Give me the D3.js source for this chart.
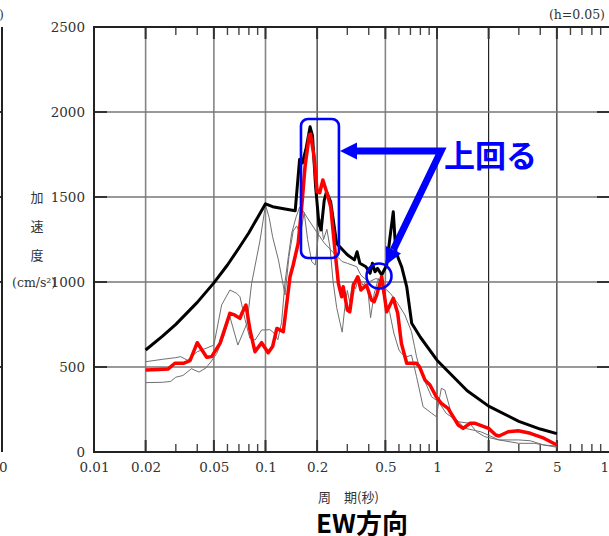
<!DOCTYPE html>
<html>
<head>
<meta charset="utf-8">
<script src="https://cdn.jsdelivr.net/npm/d3@7"></script>
<style>
body { margin: 0; background: #fff; }
svg { display: block; }
</style>
</head>
<body>
<div id="chart"></div>
<script>
// period ticks (sec) and acceleration ticks (cm/s2)
var xTicks = [0.01, 0.02, 0.05, 0.1, 0.2, 0.5, 1, 2, 5, 10];
var xTickLabels = ["0.01", "0.02", "0.05", "0.1", "0.2", "0.5", "1", "2", "5", "10"];
var minorTicks = [0.03, 0.04, 0.06, 0.07, 0.08, 0.09, 0.3, 0.4, 0.6, 0.7, 0.8, 0.9, 3, 4, 6, 7, 8, 9];
var yTicks = [0, 500, 1000, 1500, 2000, 2500];

// [period, acceleration]
var blackLine = [[0.02,600],[0.025,680],[0.03,751],[0.04,880],[0.05,995],[0.06,1100],[0.07,1200],[0.08,1290],
  [0.09,1380],[0.1,1460],[0.11,1443],[0.13,1430],[0.149,1419],[0.158,1720],[0.164,1700],[0.172,1780],[0.182,1913],
  [0.188,1860],[0.196,1560],[0.205,1340],[0.211,1306],[0.22,1480],[0.227,1531],[0.24,1470],[0.26,1227],[0.3,1160],
  [0.33,1130],[0.342,1178],[0.355,1110],[0.385,1090],[0.407,1051],[0.42,1110],[0.435,1060],[0.45,1080],[0.476,1041],
  [0.509,1100],[0.53,1250],[0.556,1413],[0.575,1180],[0.6,1130],[0.622,1090],[0.666,972],[0.712,757],[0.8,675],
  [1.0,540],[1.5,360],[2,270],[3,180],[4,135],[5,108]];

var redLine = [[0.02,482],[0.024,485],[0.027,488],[0.0296,522],[0.0332,522],[0.0363,537],[0.04,643],[0.0454,557],
  [0.0485,561],[0.0543,639],[0.062,816],[0.066,806],[0.071,786],[0.0725,812],[0.0769,865],[0.0812,718],[0.0868,590],
  [0.0949,643],[0.1037,584],[0.11,620],[0.1165,727],[0.127,708],[0.139,1031],[0.145,1100],[0.155,1227],[0.162,1423],
  [0.17,1678],[0.18,1865],[0.183,1870],[0.192,1737],[0.2,1531],[0.207,1525],[0.216,1600],[0.227,1531],[0.24,1443],
  [0.254,1188],[0.266,992],[0.278,913],[0.284,972],[0.3,835],[0.31,825],[0.326,982],[0.345,1031],[0.36,953],
  [0.388,982],[0.415,894],[0.43,884],[0.445,923],[0.476,1031],[0.509,825],[0.556,904],[0.59,816],[0.62,639],
  [0.666,522],[0.76,522],[0.79,502],[0.85,424],[0.91,394],[0.99,325],[1.06,286],[1.16,257],[1.33,159],[1.42,139],
  [1.56,169],[1.67,169],[2.0,139],[2.2,100],[2.3,94],[2.6,119],[2.98,125],[3.5,110],[4.2,81],[5.0,41]];

var grayLine1 = [[0.02,531],[0.025,545],[0.03,555],[0.032,561],[0.035,540],[0.04,590],[0.045,610],[0.05,629],
  [0.0555,865],[0.062,953],[0.068,933],[0.071,913],[0.076,780],[0.081,669],[0.087,659],[0.095,718],[0.1,718],
  [0.106,720],[0.112,700],[0.118,660],[0.124,760],[0.13,1000],[0.136,1150],[0.142,1286],[0.151,1384],[0.158,1440],
  [0.165,1420],[0.18,1360],[0.2,1290],[0.22,1230],[0.25,1170],[0.28,1120],[0.3,1110],[0.34,1090],[0.36,1040],
  [0.4,1000],[0.44,1020],[0.48,1010],[0.5,960],[0.535,933],[0.59,875],[0.65,806],[0.71,708],[0.74,619],[0.76,560],
  [0.81,463],[0.93,325],[1.02,296],[1.13,228],[1.33,178],[1.55,169],[1.7,119],[1.9,90],[2.3,71],[3,71],[3.5,66],
  [4.2,41],[5,35]];

var grayLine2 = [[0.02,408],[0.025,410],[0.028,415],[0.03,440],[0.033,450],[0.037,490],[0.041,470],[0.045,495],
  [0.048,530],[0.052,580],[0.057,678],[0.062,796],[0.069,629],[0.078,757],[0.083,992],[0.093,1247],[0.1,1453],
  [0.105,1380],[0.11,1266],[0.119,1129],[0.13,923],[0.137,1150],[0.145,1300],[0.152,1330],[0.16,1280],[0.168,1410],
  [0.176,1250],[0.186,1120],[0.195,1100],[0.203,1270],[0.21,1370],[0.218,1250],[0.228,1310],[0.238,1200],[0.248,1000],
  [0.26,850],[0.272,760],[0.28,705],[0.29,850],[0.3,950],[0.31,880],[0.322,1000],[0.335,960],[0.35,1030],[0.37,980],
  [0.39,1010],[0.41,790],[0.43,930],[0.455,1020],[0.48,950],[0.5,880],[0.53,820],[0.56,700],[0.6,600],[0.62,580],
  [0.666,560],[0.71,570],[0.76,443],[0.83,266],[0.93,228],[0.99,208],[1.06,375],[1.11,365],[1.22,218],[1.45,140],
  [1.8,119],[2.3,71],[3,51],[3.7,51],[5,28]];

// annotation anchors in data units
var boxPeriods = [0.161, 0.268];
var boxAccels = [1141, 1959];
var circlePoint = [0.459, 1035];
var arrowPoints = [[0.272, 1770], [1.055, 1770], [0.504, 1100]];

var W = 609, H = 536;
var plotLeft = 94, plotTop = 27, plotBottom = 452, plotRight = 608.5;

var svg = d3.select("#chart")
    .append("svg")
    .attr("width", W)
    .attr("height", H);

var x = d3.scaleLog()
    .domain([0.01, 10])
    .range([plotLeft, plotRight]);

var y = d3.scaleLinear()
    .domain([0, 2500])
    .range([plotBottom, plotTop]);

var darkGrid = [0.2, 1, 2, 5];

// grid lines
svg.append("g").selectAll("line")
    .data(xTicks.slice(1, -1))
    .enter().append("line")
    .attr("x1", function(d) { return x(d); })
    .attr("x2", function(d) { return x(d); })
    .attr("y1", plotTop).attr("y2", plotBottom)
    .attr("stroke", function(d) { return darkGrid.indexOf(d) >= 0 ? "#111" : "#858585"; })
    .attr("stroke-width", function(d) { return darkGrid.indexOf(d) >= 0 ? 1.1 : 1.6; });

svg.append("g").selectAll("line")
    .data(yTicks.slice(1, -1))
    .enter().append("line")
    .attr("x1", plotLeft).attr("x2", W)
    .attr("y1", function(d) { return y(d); })
    .attr("y2", function(d) { return y(d); })
    .attr("stroke", "#777")
    .attr("stroke-width", 1.6);

// major tick stubs (darker, on the frame)
var stubs = svg.append("g").attr("stroke", "#333").attr("stroke-width", 2);
xTicks.slice(1, -1).forEach(function(d) {
    stubs.append("line").attr("x1", x(d)).attr("x2", x(d)).attr("y1", plotBottom - 12).attr("y2", plotBottom);
    stubs.append("line").attr("x1", x(d)).attr("x2", x(d)).attr("y1", plotTop).attr("y2", plotTop + 12);
});
yTicks.slice(1, -1).forEach(function(d) {
    stubs.append("line").attr("x1", plotLeft).attr("x2", plotLeft + 13).attr("y1", y(d)).attr("y2", y(d));
    stubs.append("line").attr("x1", W - 12).attr("x2", W).attr("y1", y(d)).attr("y2", y(d));
    // right frame of the neighbouring chart
    stubs.append("line").attr("x1", -10).attr("x2", 2).attr("y1", y(d)).attr("y2", y(d));
});

// minor ticks
var minor = svg.append("g").attr("stroke", "#444").attr("stroke-width", 1.4);
minorTicks.forEach(function(d) {
    minor.append("line").attr("x1", x(d)).attr("x2", x(d)).attr("y1", plotBottom - 8).attr("y2", plotBottom);
    minor.append("line").attr("x1", x(d)).attr("x2", x(d)).attr("y1", plotTop).attr("y2", plotTop + 8);
});

// frame
svg.append("path")
    .attr("d", "M" + W + "," + plotTop + "H" + plotLeft + "V" + plotBottom + "H" + W)
    .attr("fill", "none")
    .attr("stroke", "#222")
    .attr("stroke-width", 2);
svg.append("line")
    .attr("x1", 2).attr("x2", 2).attr("y1", plotTop).attr("y2", plotBottom)
    .attr("stroke", "#222").attr("stroke-width", 2);

// series
var line = d3.line()
    .x(function(d) { return x(d[0]); })
    .y(function(d) { return y(d[1]); });

var plot = svg.append("g").attr("fill", "none").attr("stroke-linejoin", "round");

plot.append("path").datum(grayLine1).attr("d", line).attr("stroke", "#707070").attr("stroke-width", 1);
plot.append("path").datum(grayLine2).attr("d", line).attr("stroke", "#707070").attr("stroke-width", 1);
plot.append("path").datum(blackLine).attr("d", line).attr("stroke", "#000").attr("stroke-width", 3);
plot.append("path").datum(redLine).attr("d", line).attr("stroke", "#ff0000").attr("stroke-width", 3.5);

// axes (labels only)
var xAxis = svg.append("g")
    .attr("transform", "translate(0," + plotBottom + ")")
    .call(d3.axisBottom(x).tickValues(xTicks).tickSize(0).tickPadding(10)
        .tickFormat(function(d, i) { return xTickLabels[i]; }));

var yAxis = svg.append("g")
    .attr("transform", "translate(" + plotLeft + ",0)")
    .call(d3.axisLeft(y).tickValues(yTicks).tickSize(0).tickPadding(9).tickFormat(d3.format("d")));

[xAxis, yAxis].forEach(function(a) {
    a.select(".domain").remove();
    a.selectAll("text")
        .attr("fill", "#333")
        .style("font-family", "DejaVu Serif")
        .style("font-size", "13.5px");
});

// texts
var serif = "DejaVu Serif";
var jp = "'Noto Sans CJK JP'";

svg.append("text").attr("x", 605).attr("y", 19).attr("text-anchor", "end")
    .style("font-family", serif).style("font-size", "12.5px").attr("fill", "#333")
    .text("(h=0.05)");
svg.append("text").attr("x", 4).attr("y", 19).attr("text-anchor", "end")
    .style("font-family", serif).style("font-size", "12.5px").attr("fill", "#333")
    .text("(h=0.05)");
svg.append("text").attr("x", -1).attr("y", 471.5).attr("text-anchor", "middle")
    .style("font-family", serif).style("font-size", "13.5px").attr("fill", "#333")
    .text("10");

["加", "速", "度"].forEach(function(c, i) {
    svg.append("text").attr("x", 37).attr("y", 196 + i * 29.3)
        .attr("text-anchor", "middle").attr("dominant-baseline", "central")
        .style("font-family", jp).style("font-size", "13px").attr("fill", "#333")
        .text(c);
});
svg.append("text").attr("x", 12).attr("y", 286.5)
    .style("font-family", serif).style("font-size", "12.5px").attr("fill", "#333")
    .text("(cm/s²)");

svg.append("text").attr("x", 318).attr("y", 501.5)
    .style("font-family", jp).style("font-size", "13px").attr("fill", "#333")
    .text("周　期(秒)");

svg.append("text").attr("x", 362).attr("y", 533)
    .attr("text-anchor", "middle")
    .style("font-family", jp).style("font-size", "26px").style("font-weight", "bold").attr("fill", "#000")
    .text("EW方向");

// annotations
var blue = "#0000ff";
svg.append("rect")
    .attr("x", x(boxPeriods[0])).attr("y", y(boxAccels[1]))
    .attr("width", x(boxPeriods[1]) - x(boxPeriods[0]))
    .attr("height", y(boxAccels[0]) - y(boxAccels[1]))
    .attr("rx", 7)
    .attr("fill", "none").attr("stroke", blue).attr("stroke-width", 2.6);

svg.append("circle")
    .attr("cx", x(circlePoint[0])).attr("cy", y(circlePoint[1]))
    .attr("r", 12.5)
    .attr("fill", "none").attr("stroke", blue).attr("stroke-width", 2.6);

var pts = arrowPoints.map(function(p) { return [x(p[0]), y(p[1])]; });
var headLen = 17, headHalf = 8.5;

function head(tip, from) {
    var dx = tip[0] - from[0], dy = tip[1] - from[1];
    var len = Math.sqrt(dx * dx + dy * dy);
    var ux = dx / len, uy = dy / len;
    var bx = tip[0] - ux * headLen, by = tip[1] - uy * headLen;
    return { base: [bx, by],
             tri: [tip, [bx - uy * headHalf, by + ux * headHalf], [bx + uy * headHalf, by - ux * headHalf]] };
}

var h1 = head(pts[0], pts[1]);
var h2 = head(pts[2], pts[1]);

svg.append("path")
    .attr("d", d3.line()([h1.base, pts[1], h2.base]))
    .attr("fill", "none").attr("stroke", blue).attr("stroke-width", 7)
    .attr("stroke-linejoin", "miter");
[h1, h2].forEach(function(h) {
    svg.append("path").attr("d", d3.line()(h.tri) + "Z").attr("fill", blue);
});

svg.append("text").attr("x", 444).attr("y", 153)
    .attr("dominant-baseline", "central")
    .style("font-family", jp).style("font-size", "31px").style("font-weight", "bold").attr("fill", blue)
    .text("上回る");
</script>
</body>
</html>
